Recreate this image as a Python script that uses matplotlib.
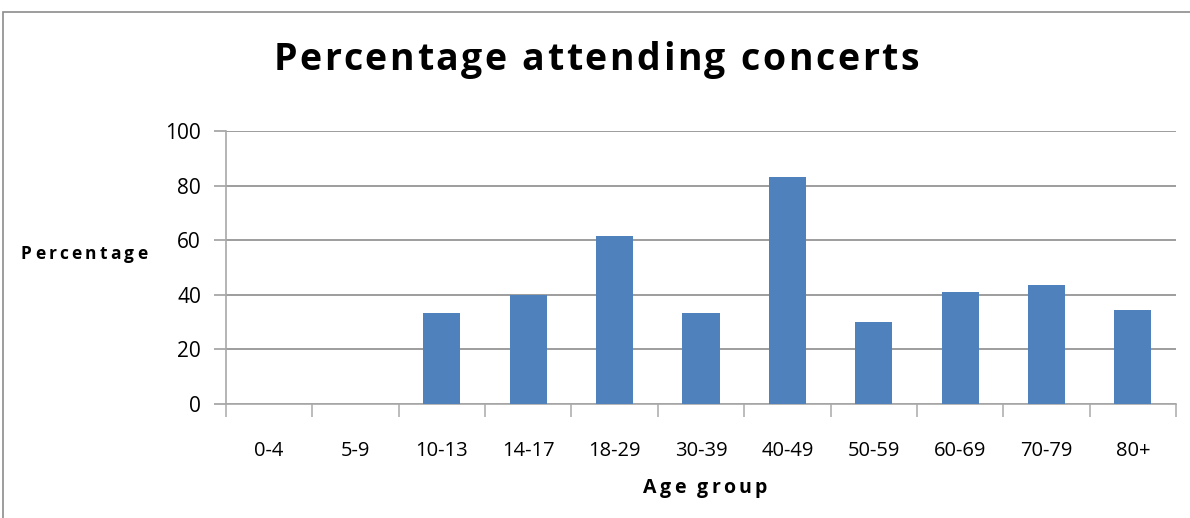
import matplotlib
matplotlib.use("Agg")
import matplotlib.pyplot as plt
from matplotlib.patches import Rectangle
import numpy as np

age_groups = ["0-4", "5-9", "10-13", "14-17", "18-29", "30-39",
              "40-49", "50-59", "60-69", "70-79", "80+"]
percent_attending = [0, 0, 33.5, 40, 61.5, 33.5, 83, 30, 41, 43.7, 34.5]
y_ticks = [0, 20, 40, 60, 80, 100]

W, H = 1190, 518
plt.rcParams["font.family"] = ["Open Sans", "DejaVu Sans"]
fig = plt.figure(figsize=(W / 100, H / 100), dpi=100)
renderer = fig.canvas.get_renderer()


def text_width(s, **kw):
    t = fig.text(0, 0, s, **kw)
    w = t.get_window_extent(renderer).width
    t.remove()
    return w


def spaced_text(cx, cy, s, tracking, **kw):
    """Draw s centred at pixel (cx, cy) with extra space between letters."""
    bar_w = text_width("|", **kw)
    offsets = [text_width(s[:i] + "|", **kw) - bar_w if i else 0.0
               for i in range(len(s))]
    total = text_width(s, **kw) + tracking * (len(s) - 1)
    x0 = cx - total / 2
    for i, ch in enumerate(s):
        if ch == " ":
            continue
        fig.text((x0 + offsets[i] + tracking * i) / W, 1 - cy / H, ch,
                 ha="left", va="center", **kw)


# plot area in pixel coordinates
left, right, top, bottom = 226, 1176, 131, 404
ax = fig.add_axes([left / W, 1 - bottom / H, (right - left) / W, (bottom - top) / H])

x = np.arange(len(age_groups))
ax.bar(x, percent_attending, width=0.43, color="#4F81BD", zorder=3)

ax.set_xlim(-0.5, len(age_groups) - 0.5)
ax.set_ylim(0, 100)
ax.set_yticks(y_ticks)
ax.set_yticklabels([str(v) for v in y_ticks], fontsize=15)
ax.yaxis.grid(True, color="#8C8C8C", linewidth=1.2, zorder=0)
ax.set_axisbelow(True)

ax.set_xticks(x)
ax.set_xticklabels(age_groups, fontsize=14.5)
ax.tick_params(axis="x", length=0, pad=27)
ax.set_xticks(np.arange(-0.5, len(age_groups)), minor=True)
ax.tick_params(axis="x", which="minor", length=9, width=1.2, color="#B0B0B0")
ax.tick_params(axis="y", length=9, width=1.2, color="#A0A0A0", pad=9)

for side in ["top", "right"]:
    ax.spines[side].set_visible(False)
for side in ["left", "bottom"]:
    ax.spines[side].set_color("#A8A8A8")
    ax.spines[side].set_linewidth(1.2)

spaced_text(596, 60, "Percentage attending concerts", 2.6,
            fontsize=27, fontweight="bold")
spaced_text(84, 254, "Percentage", 3.2, fontsize=12.5, fontweight="bold")
spaced_text(705, 488, "Age group", 3.2, fontsize=14, fontweight="bold")

# outer chart border
fig.patches.append(Rectangle((3 / W, -0.05), 1.1, 1 - 12 / H + 0.05,
                             transform=fig.transFigure, fill=False,
                             edgecolor="#8C8C8C", linewidth=1.2))

fig.savefig("out.png", dpi=100)
